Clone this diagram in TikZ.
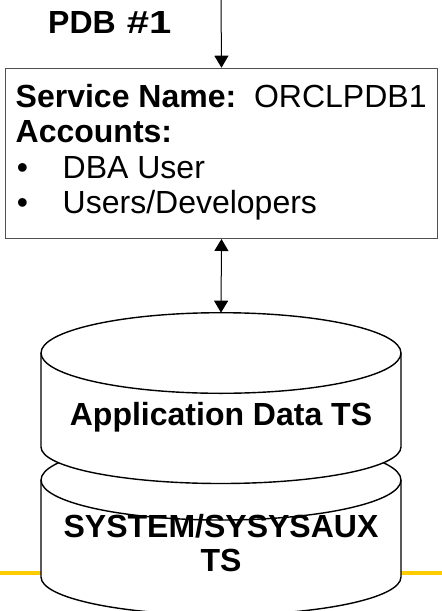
\documentclass[tikz,border=0pt]{standalone}
\usepackage{fontspec}
\setmainfont{Liberation Sans}
\usetikzlibrary{arrows.meta}
\definecolor{goldline}{RGB}{255,204,0}
\definecolor{boxgray}{RGB}{80,80,80}
\begin{document}
\begin{tikzpicture}[x=1pt,y=1pt,
  lbl/.style={inner sep=0pt, font=\fontsize{32}{35}\selectfont},
  blbl/.style={inner sep=0pt, font=\fontsize{32}{35}\selectfont\bfseries},
  conn/.style={line width=1pt, draw=black},
  tipf/.tip={Triangle[width=14pt,length=12pt]},
  cyl/.style={fill=white, draw=black, line width=1.4pt},
]
\useasboundingbox (0,0) rectangle (442,-611);
% gold rule behind the lower cylinder
\draw[line width=4pt, goldline] (0,-572.7) -- (442,-572.7);
% lower cylinder
\path[cyl] (41,-480) -- (41,-577) arc[start angle=180,end angle=360,x radius=180,y radius=38]
  -- (401,-480) arc[start angle=0,end angle=180,x radius=180,y radius=40] -- cycle;
\draw[line width=1.4pt] (41,-480) arc[start angle=180,end angle=360,x radius=180,y radius=40];
% upper cylinder
\path[cyl] (41,-353) -- (41,-447) arc[start angle=180,end angle=360,x radius=180,y radius=36.5]
  -- (401,-353) arc[start angle=0,end angle=180,x radius=180,y radius=40.3] -- cycle;
\draw[line width=1.4pt] (41,-353) arc[start angle=180,end angle=360,x radius=180,y radius=40.3];
\coordinate (cyltop) at (221,-312.7);
% cylinder labels
\node[blbl, anchor=base] (appts) at (221,-425.5) {Application Data TS};
\node[blbl, anchor=base] (sys1) at (221,-537.3) {SYSTEM/SYSYSAUX};
\node[blbl, anchor=base] (sys2) at (221,-571.7) {TS};
% PDB box
\node[draw=boxgray, line width=1pt, minimum width=432pt, minimum height=170.3pt,
      inner sep=0pt, anchor=north west] (box) at (5,-67.7) {};
\node[lbl, anchor=base west] (svc) at (15.5,-107) {\textbf{Service Name:}\hspace{17.8pt}ORCLPDB1};
\node[blbl, anchor=base west] (acc) at (15.5,-142.5) {Accounts:};
\node[lbl, anchor=base west] (b1) at (16.7,-178) {\textbullet};
\node[lbl, anchor=base west] (dba) at (62.5,-178) {DBA User};
\node[lbl, anchor=base west] (b2) at (16.7,-213.5) {\textbullet};
\node[lbl, anchor=base west] (dev) at (62.5,-213.5) {Users/Developers};
% title
\node[blbl, anchor=base west] (pdb) at (48,-33.3) {PDB\hspace{11pt}\scalebox{1.25}[1]{\#1}};
% connectors
\coordinate (topin) at (221,2);
\draw[conn, -tipf] (topin) -- (box.north);
\draw[conn, tipf-tipf] (box.south) -- (cyltop);
\end{tikzpicture}
\end{document}
